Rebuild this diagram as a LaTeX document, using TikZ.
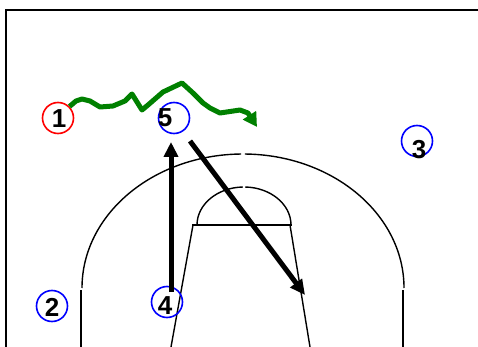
\documentclass[tikz,border=0pt]{standalone}
\usepackage{fontspec}
\setmainfont{Liberation Sans}
\usetikzlibrary{arrows.meta}
\begin{document}
\begin{tikzpicture}[x=1pt,y=-1pt,line width=1.4pt,
  player/.style={circle,draw,line width=1.6pt,minimum size=31pt,inner sep=0pt},
  num/.style={font=\fontsize{26}{26}\selectfont\bfseries,inner sep=0pt},
  pass/.style={line width=5pt,-{Triangle[length=15pt,width=14pt]}},
  dribble/.style={draw=green!50!black,line width=5pt,line join=round,-{Triangle[length=14pt,width=15pt]}}]
\useasboundingbox(0,0)rectangle(478,347);
\pgfmathsetmacro{\rx}{161}
\pgfmathsetmacro{\ry}{134}
\draw[line width=2pt](6,347)--(6,10)--(478,10);
% three point line
\draw(82,288)arc[start angle=180,end angle=269.3,x radius=\rx,y radius=\ry];
\draw(404,288)arc[start angle=0,end angle=-89.3,x radius=\rx,y radius=\ry];
\draw(81,290)--(81,347);
\draw(403,290)--(403,347);
% lane
\draw(197,225)arc[start angle=180,end angle=268.5,x radius=47,y radius=38];
\draw(291,225)arc[start angle=0,end angle=-88.5,x radius=47,y radius=38];
\draw(192,225)--(292,225);
\draw(193,225)--(171,347);
\draw(290,225)--(310,347);
% players
\node[player,draw=red](p1)at(58,118){};
\node[player,draw=blue](p2)at(52,306){};
\node[player,draw=blue](p3)at(417,141){};
\node[player,draw=blue](p4)at(167,302){};
\node[player,draw=blue](p5)at(174,118){};
\node[num](n1)at(59,119){1};
\node[num](n2)at(52,307){2};
\node[num](n3)at(419,150){3};
\node[num](n4)at(165,306){4};
\node[num](n5)at(165,118){5};
% moves
\coordinate(a4)at(171,292);
\coordinate(b4)at(171,142);
\coordinate(a5)at(190,141);
\coordinate(b5)at(305,295);
\coordinate(b1)at(257,127);
\draw[pass](a4)--(b4);
\draw[pass](a5)--(b5);
\draw[dribble](p1.north east)--(76,101)--(82,99)--(90,101)--(100,107)--(113,106)--(125,101)--(132,94)
  --(142,110)--(148,105)--(163,92)--(182,83)--(193,93)--(203,103)--(210,108)--(220,113)--(240,110)--(248,113)--(b1);
\end{tikzpicture}
\end{document}
